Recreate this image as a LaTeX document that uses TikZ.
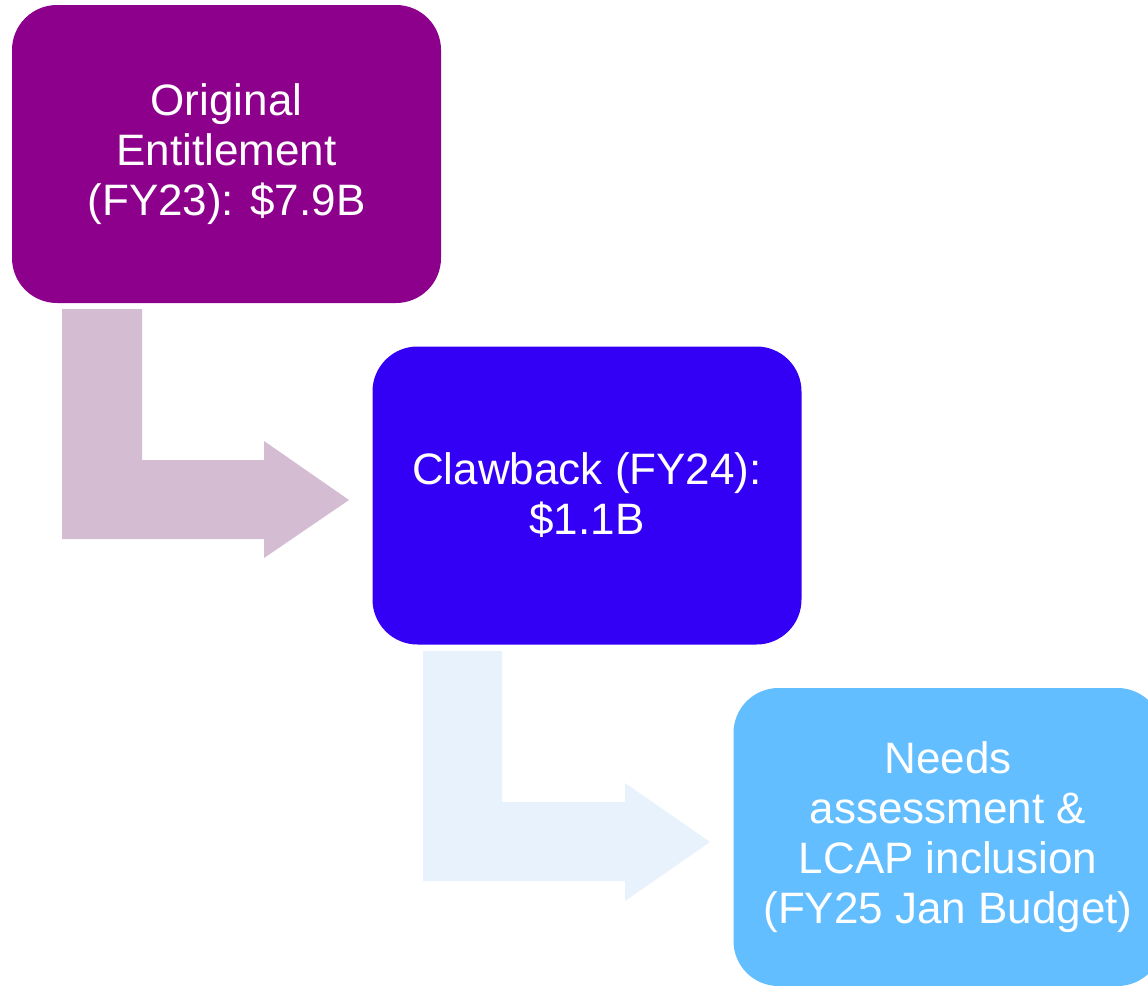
\documentclass[tikz,border=0pt]{standalone}
\usepackage{fontspec}
\setmainfont{Liberation Sans}
\definecolor{plum}{RGB}{140,0,140}
\definecolor{violetblue}{RGB}{52,0,245}
\definecolor{skyblue}{RGB}{99,190,255}
\definecolor{mauvearrow}{RGB}{212,188,211}
\definecolor{palearrow}{RGB}{232,242,252}
\tikzset{
  stagebox/.style={rounded corners=45pt, minimum width=429pt, minimum height=298pt,
    inner sep=0pt, align=center, text=white, font=\fontsize{44}{50}\selectfont},
}
\begin{document}
\begin{tikzpicture}[x=1pt,y=-1pt]
\clip (0,0) rectangle (1148,985);
\fill[white] (0,0) rectangle (1148,985);

% bent arrows between the stages
\fill[mauvearrow] (62,309) -- (142,309) -- (142,460) -- (264,460) -- (264,441)
  -- (349,500) -- (264,558) -- (264,539) -- (62,539) -- cycle;
\fill[palearrow] (423,651) -- (502,651) -- (502,802) -- (625,802) -- (625,783)
  -- (710,842) -- (625,901) -- (625,881) -- (423,881) -- cycle;

% stages
\node[stagebox, fill=plum] (orig) at (226.5,154)
  {Original\\Entitlement\\(FY23): \$7.9B};
\node[stagebox, fill=violetblue] (claw) at (587,495.5)
  {Clawback (FY24):\\\$1.1B};
\node[stagebox, fill=skyblue] (needs) at (948,837)
  {Needs\\assessment \&\\LCAP inclusion\\(FY25 Jan Budget)};
\end{tikzpicture}
\end{document}
